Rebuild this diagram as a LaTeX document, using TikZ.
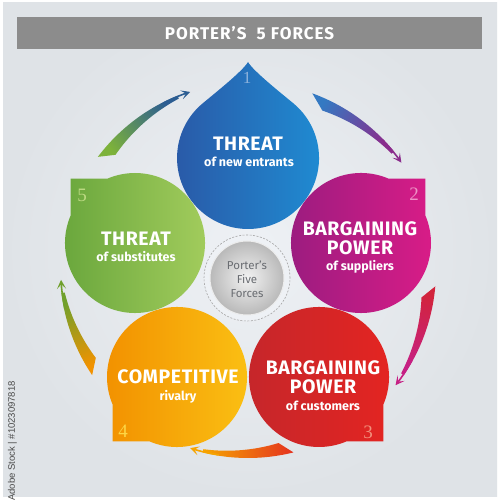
\documentclass[tikz,border=0pt]{standalone}
\usepackage{fontspec}
\setmainfont{Fira Sans}
\newfontfamily\headfont[LetterSpace=3]{Fira Sans}
\newfontfamily\titlefont[LetterSpace=6]{Fira Sans}
\newfontfamily\numfont{Liberation Serif}
\newfontfamily\sidefont{Liberation Sans}
\usetikzlibrary{arrows.meta}
\definecolor{bgIn}{HTML}{EEF1F5}
\definecolor{bgOut}{HTML}{DFE3E7}
\definecolor{titlegray}{HTML}{8C8C8C}
\definecolor{blueL}{HTML}{2A58A6}
\definecolor{blueR}{HTML}{1F8BD2}
\definecolor{magL}{HTML}{981C7F}
\definecolor{magR}{HTML}{D91C87}
\definecolor{redL}{HTML}{C4262B}
\definecolor{redR}{HTML}{E52521}
\definecolor{orL}{HTML}{F29100}
\definecolor{orR}{HTML}{FBC214}
\definecolor{grL}{HTML}{67A53B}
\definecolor{grR}{HTML}{A5CE5E}
\definecolor{nA}{HTML}{8DB2DC}
\definecolor{nB}{HTML}{EE92C6}
\definecolor{nC}{HTML}{F2907C}
\definecolor{nD}{HTML}{FDD645}
\definecolor{nE}{HTML}{BCD982}
\definecolor{aBlue}{HTML}{3479C2}
\definecolor{aPurple}{HTML}{8A2C8C}
\definecolor{aCrimson}{HTML}{D2243C}
\definecolor{aPink}{HTML}{C62084}
\definecolor{aRed}{HTML}{E5341F}
\definecolor{aOrange}{HTML}{F6A400}
\definecolor{aOr2}{HTML}{F29200}
\definecolor{aGreen}{HTML}{70A02C}
\definecolor{aGreen2}{HTML}{7DB23A}
\definecolor{aNavy}{HTML}{2B5D92}
\definecolor{centergray}{HTML}{6A6D72}
\definecolor{sidegray}{HTML}{4A4A4A}
% arrow: #1 tail angle, #2 outer end angle, #3 inner start angle, #4 tip angle, #5 tail colour, #6 tip colour, #7 shading angle, #8 inner tail angle
\newcommand{\pfarrow}[8]{%
  \shade[top color=#5, bottom color=#6, shading angle=#7]
    plot[domain=#1:#2, samples=40] ({248+188*cos(\x)},{230+188*sin(\x)})
    -- plot[domain=#3:#8, samples=40]
      ({248+(188-1.8-12*((\x)-(#4))/((#1)-(#4)))*cos(\x)},{230+(188-1.8-12*((\x)-(#4))/((#1)-(#4)))*sin(\x)})
    -- cycle;
  \draw[#6, line width=1.6pt, -{Stealth[length=9pt,width=9pt,inset=4.5pt]}]
    ([shift={(248,230)}]#4+9:187.2) arc[start angle=#4+9, end angle=#4, radius=187.2];
}
% bubble with one square corner: #1 centre, #2 corner direction, #3 left colour, #4 right colour
\newcommand{\pfbubble}[4]{%
  \shade[left color=#3, right color=#4]
    ([shift={#1}]#2+22:70) arc[start angle=#2+22, end angle=#2+338, radius=70]
    -- ([shift={#1}]#2:91) -- cycle;
}
\tikzset{
  headtxt/.style={text=white, font=\headfont\bfseries\fontsize{19.5}{22}\selectfont, inner sep=0pt},
  subtxt/.style={text=white, font=\bfseries\fontsize{12.5}{14}\selectfont, inner sep=0pt},
  numtxt/.style={font=\numfont\fontsize{19}{22}\selectfont, inner sep=0pt}
}
\begin{document}
\begin{tikzpicture}[x=1pt,y=1pt]
\useasboundingbox (0,0) rectangle (500,500);
\fill[white] (0,0) rectangle (500,500);
\shade[inner color=bgIn, outer color=bgOut] (3,3) rectangle (497,497);

% title
\fill[titlegray] (17,451) rectangle (482,483);
\node[text=white, font=\titlefont\bfseries\fontsize{17}{20}\selectfont] (title) at (249.5,467) {PORTER’S\ \ 5 FORCES};

% arrows
\pfarrow{70}{39}{39}{35}{aBlue}{aPurple}{55.5}{65}
\pfarrow{-5}{-34}{-34}{-38}{aCrimson}{aPink}{-18.4}{-9}
\pfarrow{-76}{-104}{-104}{-108}{aRed}{aOrange}{-88.8}{-80}
\pfarrow{-146}{-173}{-173}{-177}{aOr2}{aGreen}{-158.2}{-150}
\pfarrow{143}{112}{112}{108}{aGreen2}{aNavy}{128.4}{139}

% circle centres
\coordinate (c1) at (248,342);
\coordinate (c2) at (361,257);
\coordinate (c3) at (319,123);
\coordinate (c4) at (177,123);
\coordinate (c5) at (135,257);
\coordinate (c0) at (247,222);

% blue drop
\shade[left color=blueL, right color=blueR]
  (248,438) .. controls (243,429) and (213.1,405.4) .. (202.4,396.4)
  arc[start angle=130, end angle=410, radius=71]
  .. controls (282.9,405.4) and (253,429) .. (248,438) -- cycle;
\pfbubble{(361,257)}{45}{magL}{magR}
\pfbubble{(319,123)}{-45}{redL}{redR}
\pfbubble{(177,123)}{225}{orL}{orR}
\pfbubble{(135,257)}{135}{grL}{grR}

% centre
\fill[bgIn] (c0) circle (43);
\draw[gray!70, line width=0.6pt, dash pattern=on 2pt off 1.5pt] (c0) circle (43);
\shade[inner color=white!90!gray, outer color=gray!55] (c0) circle (37);
\draw[white!85!gray, line width=1pt] (c0) circle (37);
\node[text=centergray, align=center, font=\fontsize{11.5}{14}\selectfont] (centre) at (247,221) {Porter’s\\Five\\Forces};

% texts
\node[headtxt] (t1) at (248,356.5) {THREAT};
\node[subtxt] (s1) at (249,338.5) {of new entrants};
\node[numtxt, text=nA, font=\numfont\fontsize{17}{20}\selectfont] (n1) at (247,422) {1};

\node[headtxt] (t2a) at (360,271) {BARGAINING};
\node[headtxt] (t2b) at (360,252) {POWER};
\node[subtxt] (s2) at (360,233) {of suppliers};
\node[numtxt, text=nB] (n2) at (414,306) {2};

\node[headtxt] (t3a) at (323,132) {BARGAINING};
\node[headtxt] (t3b) at (323,113) {POWER};
\node[subtxt] (s3) at (323,94) {of customers};
\node[numtxt, text=nC] (n3) at (368,68) {3};

\node[headtxt] (t4) at (178,123) {COMPETITIVE};
\node[subtxt] (s4) at (178,103) {rivalry};
\node[numtxt, text=nD] (n4) at (123,69) {4};

\node[headtxt] (t5) at (136,261) {THREAT};
\node[subtxt] (s5) at (136,243) {of substitutes};
\node[numtxt, text=nE] (n5) at (82,305) {5};

% side text
\node[rotate=90, text=sidegray, font=\sidefont\fontsize{9.5}{11}\selectfont] (side) at (12.5,59) {Adobe Stock | \#1023097818};
\end{tikzpicture}
\end{document}
